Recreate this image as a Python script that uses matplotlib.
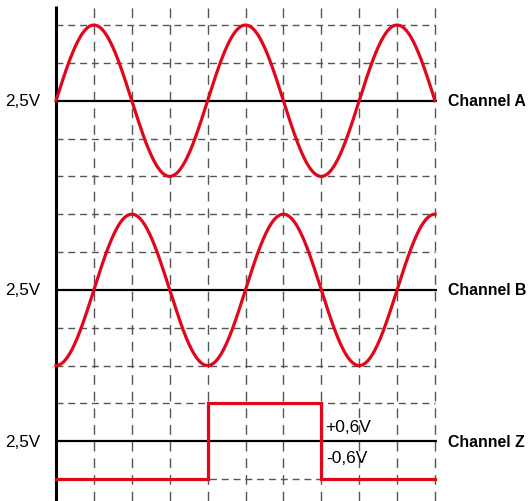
import numpy as np
import matplotlib
matplotlib.use("Agg")
import matplotlib.pyplot as plt

plt.rcParams['font.family'] = ['Liberation Sans', 'DejaVu Sans']

# grid: 10 time divisions, 12 level divisions (0 = bottom dashed line)
n_time_divs = 10
n_level_divs = 12

# channel settings (in divisions)
channel_names = ["Channel A", "Channel B", "Channel Z"]
channel_offsets = [10, 5, 1]
offset_labels = ["2,5V", "2,5V", "2,5V"]

sine_period = 4.0
sine_amplitude = 2.0
sine_phase_a = 0.0      # starts rising through the baseline
sine_phase_b = -90.0    # starts at the trough (degrees)

# Channel Z square wave
z_edges = [0, 4, 7, 10]
z_levels = [-1, 1, -1]
z_labels = ["+0,6V", "-0,6V"]

red = "#e2061b"
grid_col = "#555555"

fig = plt.figure(figsize=(5.28, 5.02), dpi=100)
ax = fig.add_axes([0, 0, 1, 1])

# pixel mapping: x=0 at 56px, 37.9px/div; level 0 at 480px, 37.83px/div
px_x = 37.9
px_y = 37.83
ax.set_xlim(-56 / px_x, (528 - 56) / px_x)
ax.set_ylim(-(502 - 480) / px_y, 480 / px_y)
ax.axis("off")

top = (480 - 7) / px_y
bottom = -(502 - 480) / px_y

# vertical dashed grid
for d in range(1, n_time_divs + 1):
    ax.plot([d, d], [bottom, top], color=grid_col, lw=1.0,
            dashes=(7, 5), zorder=1)

# horizontal dashed grid
for k in range(0, n_level_divs + 1):
    if k in channel_offsets:
        continue
    ax.plot([0, n_time_divs], [k, k], color=grid_col, lw=1.0,
            dashes=(5, 3.5), zorder=1)

# baselines
for off, name, lab in zip(channel_offsets, channel_names, offset_labels):
    ax.plot([0, n_time_divs + 0.05], [off, off], color="black", lw=1.6,
            zorder=2, solid_capstyle="butt")
    ax.text(n_time_divs + 0.34, off, name, ha="left", va="center",
            fontsize=11.4, fontweight="bold")
    ax.text(-1.35, off, lab, ha="left", va="center", fontsize=12.3)

# left axis
ax.plot([0, 0], [bottom, top], color="black", lw=2.2, zorder=3,
        solid_capstyle="butt")

# sine channels
t = np.linspace(0, n_time_divs, 800)
ya = channel_offsets[0] + sine_amplitude * np.sin(2 * np.pi * t / sine_period + np.radians(sine_phase_a))
yb = channel_offsets[1] + sine_amplitude * np.sin(2 * np.pi * t / sine_period + np.radians(sine_phase_b))
ax.plot(t, ya, color=red, lw=2.3, zorder=4)
ax.plot(t, yb, color=red, lw=2.3, zorder=4)

# square wave channel
zx = np.repeat(z_edges, 2)[1:-1]
zy = channel_offsets[2] + np.repeat(z_levels, 2)
ax.plot(zx, zy, color=red, lw=2.3, zorder=4, solid_joinstyle="miter")

ax.text(z_edges[2] + 0.1, channel_offsets[2] + 0.4, z_labels[0],
        ha="left", va="center", fontsize=12.5)
ax.text(z_edges[2] + 0.12, channel_offsets[2] - 0.42, z_labels[1],
        ha="left", va="center", fontsize=12.5)

fig.savefig("out.png", dpi=100)
